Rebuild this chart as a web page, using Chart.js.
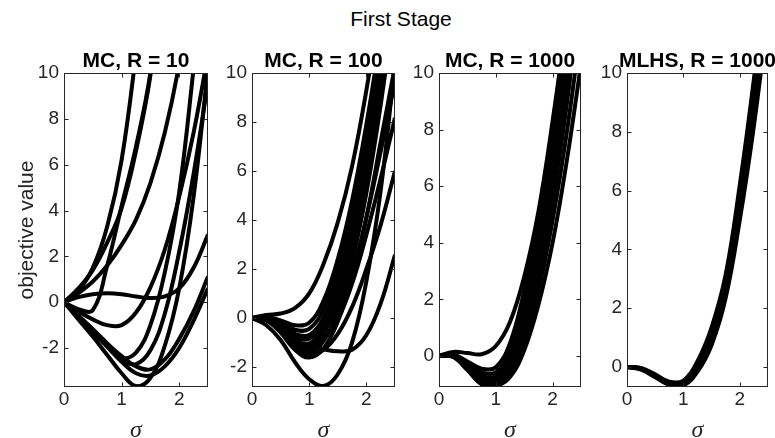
<!DOCTYPE html>
<html>
<head>
<meta charset="utf-8">
<script src="https://cdn.jsdelivr.net/npm/chart.js@4/dist/chart.umd.min.js"></script>
<style>
  body { margin: 0; background: #fff; width: 775px; height: 438px; overflow: hidden; position: relative; font-family: "Liberation Sans", Arial, sans-serif; }
  canvas { position: absolute; }
  #suptitle { position: absolute; left: 301px; top: 8px; width: 200px; text-align: center; font-size: 21px; line-height: 21px; color: #000; }
</style>
</head>
<body>
<div id="suptitle">First Stage</div>
<canvas id="p1" width="212" height="405" style="left:4px;top:40px"></canvas>
<canvas id="p2" width="191" height="405" style="left:212px;top:40px"></canvas>
<canvas id="p3" width="190" height="405" style="left:399px;top:40px"></canvas>
<canvas id="p4" width="189" height="405" style="left:587px;top:40px"></canvas>
<script>
// sigma grid shared by every curve
var sigma = [0, 0.25, 0.5, 0.75, 1.0, 1.25, 1.5, 1.75, 2.0, 2.25, 2.5];
var xTicks = [0, 1, 2];

// MC, R = 10
var mc10 = [
  [0, 0.5, 1.5, 3.3, 6.2, 10.9, 17, 25, 34, 44, 55],
  [0, -0.3, -0.35, 1.6, 4.2, 6.8, 10.0, 15, 21, 28, 36],
  [0, 0.6, 1.4, 2.6, 4.1, 6.6, 9.9, 15, 21, 28, 36],
  [0, 0.4, 0.9, 1.6, 2.5, 3.6, 5.2, 7.4, 10.4, 14.5, 19.5],
  [0, 0.22, 0.35, 0.39, 0.35, 0.25, 0.18, 0.25, 0.6, 1.5, 2.95],
  [0, -0.4, -0.75, -1.0, -1.0, -0.45, 0.65, 2.3, 4.6, 7.4, 10.8],
  [0, -0.58, -1.18, -1.8, -2.42, -2.2, -1.0, 1.3, 4.8, 10.2, 16],
  [0, -0.75, -1.5, -2.3, -3.1, -3.66, -3.3, -1.9, 0.6, 4.6, 10.2],
  [0, -0.6, -1.2, -1.8, -2.35, -2.8, -2.93, -2.5, -1.6, -0.4, 1.12],
  [0, -0.65, -1.3, -1.95, -2.6, -3.1, -3.2, -2.8, -2.0, -0.8, 0.61],
  [0, -0.62, -1.25, -1.9, -2.5, -2.7, -2.1, -0.5, 2.2, 5.6, 9.6]
];
var mc10Ticks = [-2, 0, 2, 4, 6, 8, 10];

// MC, R = 100
var mc100 = [
  [0, 0.12, 0.18, 0.4, 1.0, 2.2, 3.9, 6.2, 9.3, 13, 17.5],
  [0, 0.05, -0.1, -0.3, -0.2, 0.7, 2.4, 4.8, 7.9, 11.6, 16],
  [0, 0.02, -0.18, -0.48, -0.45, 0.35, 2.0, 4.3, 7.4, 11.2, 15.5],
  [0, 0, -0.25, -0.65, -0.7, 0.0, 1.6, 3.9, 7.0, 10.7, 15],
  [0, -0.02, -0.3, -0.78, -0.85, -0.2, 1.35, 3.6, 6.6, 10.3, 14.5],
  [0, -0.04, -0.38, -0.92, -1.05, -0.4, 1.1, 3.2, 6.2, 9.8, 14],
  [0, -0.06, -0.45, -1.05, -1.2, -0.65, 0.7, 2.8, 5.7, 9.3, 13.5],
  [0, -0.08, -0.52, -1.2, -1.45, -0.95, 0.3, 2.3, 5.1, 8.7, 13],
  [0, -0.1, -0.6, -1.3, -1.62, -1.25, -0.15, 1.6, 4.1, 7.2, 10.3],
  [0, -0.06, -0.5, -1.1, -1.3, -0.9, 0.1, 1.8, 4.1, 6.8, 9.67],
  [0, -0.04, -0.42, -0.95, -1.12, -0.85, -0.05, 1.4, 3.4, 5.7, 8.17],
  [0, -0.08, -0.55, -1.2, -1.48, -1.3, -0.65, 0.45, 2.0, 3.8, 6.0],
  [0, -0.05, -0.45, -0.9, -1.15, -1.28, -1.36, -1.3, -0.7, 0.6, 2.58],
  [0, -0.3, -0.9, -1.8, -2.5, -2.78, -2.3, -1.0, 1.5, 5.2, 10.4]
];
var mc100Ticks = [-2, 0, 2, 4, 6, 8, 10];

// MC, R = 1000
var mc1000 = [
  [0, 0.14, 0.1, 0.06, 0.35, 1.2, 2.8, 5.1, 8.3, 12, 16.5],
  [0, 0.05, -0.2, -0.45, -0.4, 0.45, 2.3, 4.8, 8.1, 12, 16.5],
  [0, 0.03, -0.28, -0.58, -0.58, 0.2, 1.9, 4.2, 7.4, 11.1, 15.5],
  [0, 0.01, -0.34, -0.7, -0.72, 0.0, 1.5, 3.6, 6.6, 10.2, 14.5],
  [0, 0, -0.38, -0.8, -0.84, -0.2, 1.2, 3.2, 6.1, 9.6, 13.8],
  [0, -0.02, -0.42, -0.88, -0.94, -0.38, 0.9, 2.8, 5.5, 8.9, 13],
  [0, -0.03, -0.46, -0.95, -1.02, -0.58, 0.55, 2.3, 4.8, 7.9, 11.6],
  [0, -0.04, -0.5, -1.0, -1.07, -0.75, 0.2, 1.8, 4.0, 6.9, 10.3]
];
var mc1000Ticks = [0, 2, 4, 6, 8, 10];

// MLHS, R = 1000
var mlhs1000 = [
  [0, -0.03, -0.25, -0.5, -0.46, 0.2, 1.35, 3.15, 6.2, 9.8, 14],
  [0, -0.05, -0.28, -0.53, -0.5, 0.1, 1.2, 2.95, 5.9, 9.4, 13.5],
  [0, -0.06, -0.3, -0.56, -0.55, 0.0, 1.05, 2.75, 5.6, 9.0, 13.0],
  [0, -0.07, -0.32, -0.58, -0.59, -0.08, 0.9, 2.55, 5.3, 8.6, 12.5],
  [0, -0.09, -0.35, -0.61, -0.63, -0.16, 0.75, 2.35, 5.0, 8.2, 12.0]
];
var mlhs1000Ticks = [0, 2, 4, 6, 8, 10];

var axisColor = '#262626';

// box + inward ticks on all four sides, and the panel title centred on the plot area
var boxPlugin = {
  id: 'matBox',
  afterDraw: function(chart, args, opts) {
    var ctx = chart.ctx, a = chart.chartArea;
    var xs = chart.scales.x, ys = chart.scales.y;
    ctx.save();
    ctx.strokeStyle = axisColor;
    ctx.lineWidth = 1;
    var l = Math.round(a.left) + 0.5, r = Math.round(a.right) - 0.5;
    var t = Math.round(a.top) + 0.5, b = Math.round(a.bottom) - 0.5;
    ctx.strokeRect(l, t, r - l, b - t);
    ctx.beginPath();
    xs.ticks.forEach(function(tk) {
      var px = Math.round(xs.getPixelForValue(tk.value)) + 0.5;
      ctx.moveTo(px, b); ctx.lineTo(px, b - 4);
      ctx.moveTo(px, t); ctx.lineTo(px, t + 4);
    });
    ys.ticks.forEach(function(tk) {
      var py = Math.round(ys.getPixelForValue(tk.value)) + 0.5;
      ctx.moveTo(l, py); ctx.lineTo(l + 4, py);
      ctx.moveTo(r, py); ctx.lineTo(r - 4, py);
    });
    ctx.stroke();
    ctx.fillStyle = '#000';
    ctx.font = 'bold 21px "Liberation Sans", Arial, sans-serif';
    ctx.textAlign = 'center';
    ctx.textBaseline = 'middle';
    ctx.fillText(opts.text, (a.left + a.right) / 2, a.top - 12);
    ctx.restore();
  }
};

function makePanel(id, title, curves, yMin, yTicks, yWidth, yLabel) {
  var datasets = curves.map(function(vals) {
    return {
      data: sigma.map(function(s, i) { return { x: s, y: vals[i] }; }),
      borderColor: '#000',
      borderWidth: 4,
      pointRadius: 0,
      fill: false,
      clip: 0,
      tension: 0.4
    };
  });
  return new Chart(document.getElementById(id), {
    type: 'line',
    data: { datasets: datasets },
    plugins: [boxPlugin],
    options: {
      responsive: false,
      animation: false,
      devicePixelRatio: 1,
      layout: { padding: { top: 33, right: 8, left: 0, bottom: 0 } },
      plugins: {
        legend: { display: false },
        tooltip: { enabled: false },
        matBox: { text: title }
      },
      scales: {
        x: {
          type: 'linear',
          min: 0, max: 2.5,
          afterBuildTicks: function(s) { s.ticks = xTicks.map(function(v) { return { value: v }; }); },
          afterFit: function(s) { s.height = 58; },
          grid: { display: false, drawTicks: false },
          border: { display: false },
          ticks: { color: axisColor, padding: 1, font: { family: '"Liberation Sans", Arial', size: 19 } },
          title: {
            display: true, text: 'σ', color: axisColor,
            padding: { top: 0, bottom: 0 },
            font: { family: '"Liberation Serif", "DejaVu Serif", serif', style: 'italic', size: 24 }
          }
        },
        y: {
          type: 'linear',
          min: yMin, max: 10,
          afterBuildTicks: function(s) { s.ticks = yTicks.map(function(v) { return { value: v }; }); },
          afterFit: function(s) { s.width = yWidth; },
          grid: { display: false, drawTicks: false },
          border: { display: false },
          ticks: { color: axisColor, padding: 5, font: { family: '"Liberation Sans", Arial', size: 19 } },
          title: {
            display: !!yLabel, text: yLabel || '', color: axisColor,
            padding: { top: 11, bottom: 0 },
            font: { family: '"Liberation Sans", Arial', size: 21 }
          }
        }
      }
    }
  });
}

makePanel('p1', 'MC, R = 10', mc10, -3.7, mc10Ticks, 60, 'objective value');
makePanel('p2', 'MC, R = 100', mc100, -2.82, mc100Ticks, 40);
makePanel('p3', 'MC, R = 1000', mc1000, -1.1, mc1000Ticks, 40);
makePanel('p4', 'MLHS, R = 1000', mlhs1000, -0.68, mlhs1000Ticks, 40);
</script>
</body>
</html>
